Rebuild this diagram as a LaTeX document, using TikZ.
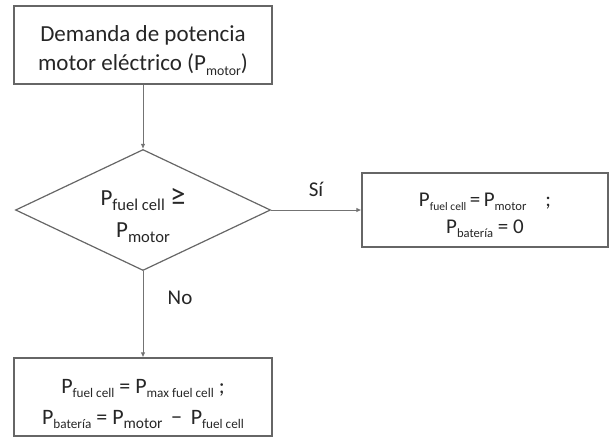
\documentclass[tikz,border=0pt]{standalone}
\usepackage{fontspec}
\setmainfont{Carlito}
\usetikzlibrary{arrows.meta,shapes.geometric}
\newcommand{\Psub}[2][0.6]{P\raisebox{-0.45ex}{\scalebox{#1}{#2}}}
\begin{document}
\begin{tikzpicture}[x=1pt,y=-1pt,
  box/.style={draw=black!60, line width=1.3pt, rectangle, inner sep=0pt},
  dec/.style={draw=black!60, line width=1.2pt, diamond, aspect=2.1, inner sep=0pt},
  txt/.style={inner sep=0pt, align=center, text=black!85},
  arr/.style={draw=black!55, line width=0.9pt, -{Latex[length=5pt,width=4.5pt]}},
  lbl/.style={text=black!85, font=\fontsize{21}{24}\selectfont}
]
\useasboundingbox (0,0) rectangle (610,437);
% shapes
\node[box, minimum width=258pt, minimum height=78pt] (demand) at (143,45) {};
\node[dec, minimum width=255pt, minimum height=121pt] (cond) at (143,210) {};
\node[box, minimum width=246pt, minimum height=74pt] (yes) at (485,210) {};
\node[box, minimum width=258pt, minimum height=78pt] (no) at (143,397) {};
% texts
\node[txt, font=\fontsize{23}{29}\selectfont] (demandtxt) at (143,51)
  {Demanda de potencia\\motor eléctrico (\Psub{motor})};
\node[txt, font=\fontsize{23}{32}\selectfont] (condtxt) at (143,215.5)
  {\Psub[0.72]{fuel cell} {\fontsize{31}{32}\selectfont ≥}\\\Psub[0.72]{motor}};
\node[txt, font=\fontsize{21}{27}\selectfont] (yestxt) at (485,215.5)
  {\Psub[0.55]{fuel cell}\,=\,\Psub[0.6]{motor}\hspace{0.9em};\\\Psub[0.6]{batería} = 0};
\node[txt, font=\fontsize{22}{31}\selectfont] (notxt) at (143,404)
  {\Psub{fuel cell} = \Psub{max fuel cell} ;\\\Psub{batería} = \Psub[0.7]{motor} \,−\, \Psub{fuel cell}};
% connectors
\draw[arr] (demand) -- (cond);
\draw[arr] (cond.east) -- (yes.west);
\draw[arr] (cond.south) -- (no.north);
\node[lbl] (si) at (316,189) {Sí};
\node[lbl] (nolbl) at (180,298) {No};
\end{tikzpicture}
\end{document}
